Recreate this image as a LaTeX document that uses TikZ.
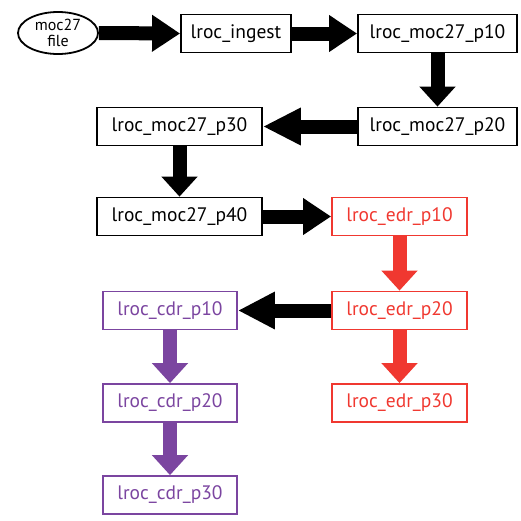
\documentclass[tikz,border=0pt]{standalone}
\usepackage{fontspec}
\setmainfont{PT Sans}
\usetikzlibrary{arrows.meta,shapes.geometric}
\definecolor{edrred}{RGB}{240,56,48}
\definecolor{cdrpurple}{RGB}{123,69,160}
\tikzset{
  box/.style={draw=black, line width=1.8pt, minimum height=38pt, inner sep=2pt, font=\fontsize{19.5}{21}\selectfont, text=black},
  redbox/.style={box, draw=edrred, text=edrred},
  purbox/.style={box, draw=cdrpurple, text=cdrpurple},
  blk/.style={line width=14pt, -{Triangle[length=#1, width=35pt]}},
  blk/.default=28pt
}
\begin{document}
\begin{tikzpicture}[x=1pt,y=-1pt]
\useasboundingbox (0,0) rectangle (521,520);
\node[draw, ellipse, line width=1.8pt, minimum width=80pt, minimum height=42pt, inner sep=0pt, align=center, font=\fontsize{16}{16}\selectfont] (file) at (58,33) {moc27\\file};
\node[box, minimum width=110pt] (ingest) at (236,33.5) {lroc\_ingest};
\node[box, minimum width=159pt] (p10) at (437.5,33.5) {lroc\_moc27\_p10};
\node[box, minimum width=159pt] (p20) at (437.5,126.5) {lroc\_moc27\_p20};
\node[box, minimum width=165pt] (p30) at (179.5,126.5) {lroc\_moc27\_p30};
\node[box, minimum width=165pt] (p40) at (179.5,216.5) {lroc\_moc27\_p40};
\node[redbox, minimum width=135pt] (e10) at (399.5,216.5) {lroc\_edr\_p10};
\node[redbox, minimum width=135pt] (e20) at (399.5,310.5) {lroc\_edr\_p20};
\node[redbox, minimum width=135pt] (e30) at (399.5,403) {lroc\_edr\_p30};
\node[purbox, minimum width=134pt] (c10) at (170,310.5) {lroc\_cdr\_p10};
\node[purbox, minimum width=134pt] (c20) at (170,403) {lroc\_cdr\_p20};
\node[purbox, minimum width=134pt] (c30) at (170,495) {lroc\_cdr\_p30};
\draw[blk] (file.east) -- (ingest.west);
\draw[blk] (ingest.east) -- (p10.west);
\draw[blk=20pt] (p10.south) -- (p20.north);
\draw[blk=38pt] (p20.west) -- (p30.east);
\draw[blk=20pt] (p30.south) -- (p40.north);
\draw[blk] (p40.east) -- (e10.west);
\draw[blk=20pt, edrred] (e10.south) -- (e20.north);
\draw[blk=20pt, edrred] (e20.south) -- (e30.north);
\draw[blk=37pt] (e20.west) -- (c10.east);
\draw[blk=20pt, cdrpurple] (c10.south) -- (c20.north);
\draw[blk=20pt, cdrpurple] (c20.south) -- (c30.north);
\end{tikzpicture}
\end{document}
